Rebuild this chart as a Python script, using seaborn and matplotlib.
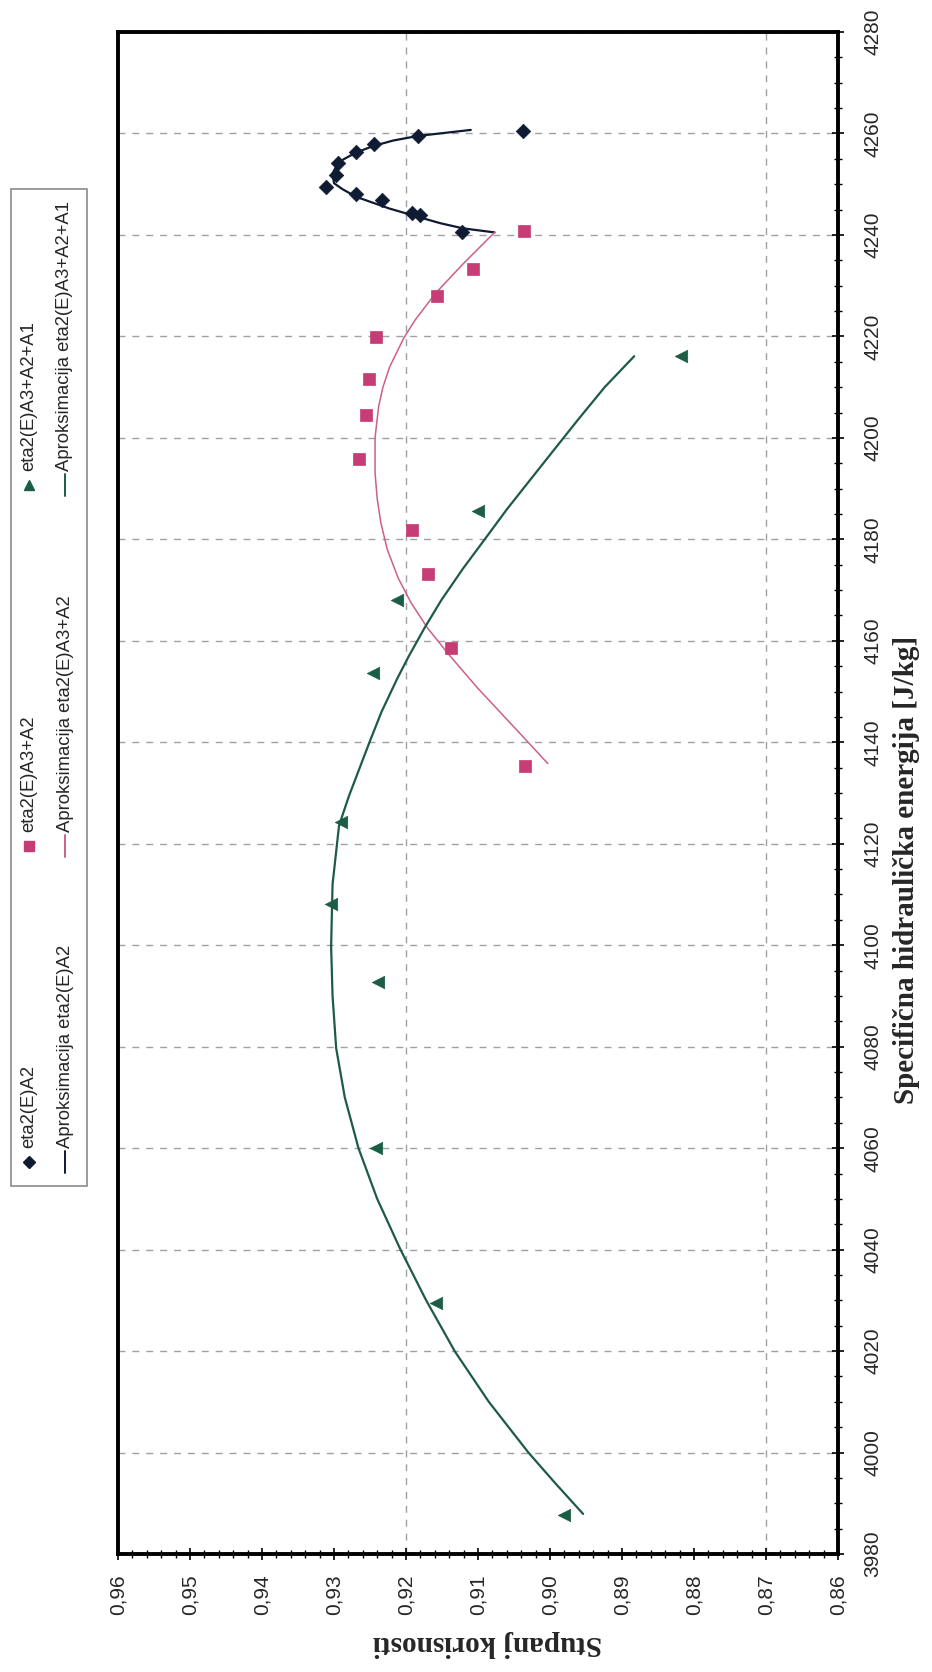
import matplotlib
matplotlib.use("Agg")
import pandas as pd
import matplotlib.pyplot as plt
import seaborn as sns
from matplotlib import font_manager
from matplotlib.ticker import MultipleLocator, FuncFormatter
from matplotlib.patches import Rectangle

# Izmjerene tocke (energija J/kg, stupanj korisnosti)
a2_E = [4260.5, 4259.5, 4258.0, 4256.4, 4254.1, 4251.8, 4249.4, 4248.0, 4246.9, 4244.3, 4243.9, 4240.5]
a2_eta = [0.9038, 0.9184, 0.9245, 0.9269, 0.9294, 0.9297, 0.9311, 0.9270, 0.9233, 0.9192, 0.9181, 0.9122]

a32_E = [4240.7, 4233.3, 4227.9, 4219.9, 4211.6, 4204.6, 4195.9, 4181.8, 4173.1, 4158.5, 4135.4]
a32_eta = [0.9036, 0.9107, 0.9157, 0.9241, 0.9252, 0.9255, 0.9265, 0.9192, 0.9169, 0.9137, 0.9035]

a321_E = [4216.1, 4185.6, 4168.0, 4153.6, 4124.2, 4108.1, 4092.7, 4060.0, 4029.4, 3987.6]
a321_eta = [0.8818, 0.9100, 0.9212, 0.9246, 0.9290, 0.9304, 0.9239, 0.9242, 0.9158, 0.8981]

# Aproksimacije (ocitano s krivulja)
fit_a2_E = [4240.5, 4241.3, 4242.3, 4243.3, 4245.2, 4247.5, 4249.0, 4250.2, 4252.1, 4253.5, 4254.8,
            4256.2, 4257.5, 4258.6, 4259.5, 4260.7]
fit_a2_eta = [0.9077, 0.9121, 0.9152, 0.9177, 0.9223, 0.9269, 0.9288, 0.9300, 0.9302, 0.9297, 0.9288,
              0.9270, 0.9246, 0.9218, 0.9184, 0.9110]

fit_a32_E = [4135.8, 4142.7, 4150.6, 4157.2, 4162.5, 4167.5, 4172.4, 4178.0, 4183.3, 4188.0, 4193.1,
             4200.0, 4206.2, 4210.0, 4213.9, 4219.7, 4223.3, 4228.5, 4234.4, 4240.5]
fit_a32_eta = [0.9003, 0.9048, 0.9100, 0.9140, 0.9170, 0.9193, 0.9211, 0.9226, 0.9235, 0.9240, 0.9243,
               0.9243, 0.9238, 0.9232, 0.9223, 0.9203, 0.9187, 0.9159, 0.9120, 0.9077]

fit_a321_E = [3987.9, 3994.0, 4000.0, 4010.0, 4019.9, 4030.0, 4040.1, 4050.0, 4060.0, 4070.0, 4079.7,
              4090.0, 4099.8, 4112.0, 4123.6, 4129.5, 4139.9, 4146.0, 4152.6, 4157.0, 4162.6, 4168.0,
              4174.2, 4180.7, 4185.9, 4191.1, 4197.0, 4203.6, 4210.0, 4216.1]
fit_a321_eta = [0.8954, 0.8993, 0.9030, 0.9085, 0.9132, 0.9172, 0.9208, 0.9240, 0.9266, 0.9285, 0.9297,
                0.9302, 0.9304, 0.9302, 0.9293, 0.9279, 0.9251, 0.9234, 0.9212, 0.9196, 0.9174, 0.9151,
                0.9121, 0.9087, 0.9060, 0.9031, 0.8998, 0.8961, 0.8924, 0.8883]

labels = ["eta2(E)A2", "eta2(E)A3+A2", "eta2(E)A3+A2+A1"]
c_navy = "#0f1a33"
c_pink = "#c63c74"
c_pink_line = "#cc6088"
c_green = "#1b5e45"
c_green_line = "#1e5a48"

sns.set_style("white")
# uski font ako postoji
have_narrow = any(f.name == 'Liberation Sans Narrow' for f in font_manager.fontManager.ttflist)
if have_narrow:
    plt.rcParams['font.family'] = ['Liberation Sans Narrow', 'DejaVu Sans']
    tick_fs, leg_fs = 17, 16
else:
    plt.rcParams['font.family'] = ['Liberation Sans', 'DejaVu Sans']
    tick_fs, leg_fs = 15, 13.3

fig = plt.figure(figsize=(9.32, 16.72), dpi=100)
ax = fig.add_axes([118 / 932, 118 / 1672, 720 / 932, 1522 / 1672])

# Mreza
ax.set_xlim(0.96, 0.86)
ax.set_ylim(3980, 4280)
ax.yaxis.set_major_locator(MultipleLocator(20))
ax.yaxis.set_minor_locator(MultipleLocator(5))
ax.xaxis.set_major_locator(MultipleLocator(0.01))
ax.xaxis.set_minor_locator(MultipleLocator(0.002))
ax.grid(axis='y', which='major', color='#a0a0a0', linestyle=(0, (5, 5)), linewidth=1)
for g in [0.92, 0.87]:
    ax.axvline(g, color='#a0a0a0', linestyle=(0, (5, 5)), linewidth=1, zorder=0)
ax.set_axisbelow(True)

# Krivulje
series = [
    (fit_a2_E, fit_a2_eta, c_navy, 1.6),
    (fit_a32_E, fit_a32_eta, c_pink_line, 1.1),
    (fit_a321_E, fit_a321_eta, c_green_line, 1.6),
]
for E, eta, col, lw in series:
    d = pd.DataFrame({'E': E, 'eta': eta})
    sns.lineplot(data=d, x='eta', y='E', sort=False, estimator=None, color=col, lw=lw, ax=ax, zorder=2)

# Tocke
points = [
    (a2_E, a2_eta, 'D', 55, c_navy),
    (a32_E, a32_eta, 's', 85, c_pink),
    (a321_E, a321_eta, '<', 80, c_green),
]
for E, eta, m, s, col in points:
    d = pd.DataFrame({'E': E, 'eta': eta})
    sns.scatterplot(data=d, x='eta', y='E', marker=m, s=s, color=col, edgecolor=col,
                    linewidth=0.5, ax=ax, zorder=3, legend=False)

# Osi
comma = FuncFormatter(lambda v, p: f"{v:.2f}".replace('.', ','))
ax.xaxis.set_major_formatter(comma)
ax.yaxis.set_major_formatter(FuncFormatter(lambda v, p: f"{v:.0f}"))
ax.yaxis.tick_right()
ax.tick_params(axis='both', which='major', direction='inout', length=9, width=1.2, color='black', labelsize=tick_fs)
ax.tick_params(axis='both', which='minor', direction='inout', length=6, width=1, color='black')
ax.tick_params(axis='y', which='both', left=False, right=True, labelleft=False, labelright=True, pad=14)
ax.tick_params(axis='x', which='both', top=False, bottom=True, labelrotation=90, pad=10)
for lbl in ax.get_yticklabels():
    lbl.set_rotation(90)
    lbl.set_va('center')
for sp in ax.spines.values():
    sp.set_linewidth(2.8)
    sp.set_color('black')
ax.set_xlabel("")
ax.set_ylabel("")

fig.text(906 / 932, 1 - 870 / 1672, "Specifična hidraulička energija [J/kg]", rotation=90,
         ha='center', va='center', fontsize=21, fontweight='bold', family='Liberation Serif')
fig.text(488 / 932, 1 - 1643 / 1672, "Stupanj korisnosti", rotation=180,
         ha='center', va='center', fontsize=21, fontweight='bold', family='Liberation Serif')

# Legenda (zakrenuta)
lax = fig.add_axes([0, 0, 1, 1], facecolor='none')
lax.set_xlim(0, 932)
lax.set_ylim(1672, 0)
lax.axis('off')
lax.add_patch(Rectangle((11, 189), 76, 997, fill=False, edgecolor='#8a8a8a', lw=1.2))
entries = [
    (1162, labels[0], 'D', 6.5, c_navy, c_navy),
    (846, labels[1], 's', 7.5, c_pink, c_pink_line),
    (485, labels[2], '^', 7.5, c_green, c_green_line),
]
for yc, lab, m, ms, col, lcol in entries:
    lax.plot([29], [yc], marker=m, ms=ms, color=col, linestyle='none')
    lax.plot([65, 65], [yc - 11, yc + 11], color=lcol, lw=1.4)
    lax.text(29, yc - 14, lab, rotation=90, ha='center', va='bottom', fontsize=leg_fs)
    lax.text(65, yc - 14, "Aproksimacija " + lab, rotation=90, ha='center', va='bottom', fontsize=leg_fs)

fig.savefig("out.png", dpi=100)
